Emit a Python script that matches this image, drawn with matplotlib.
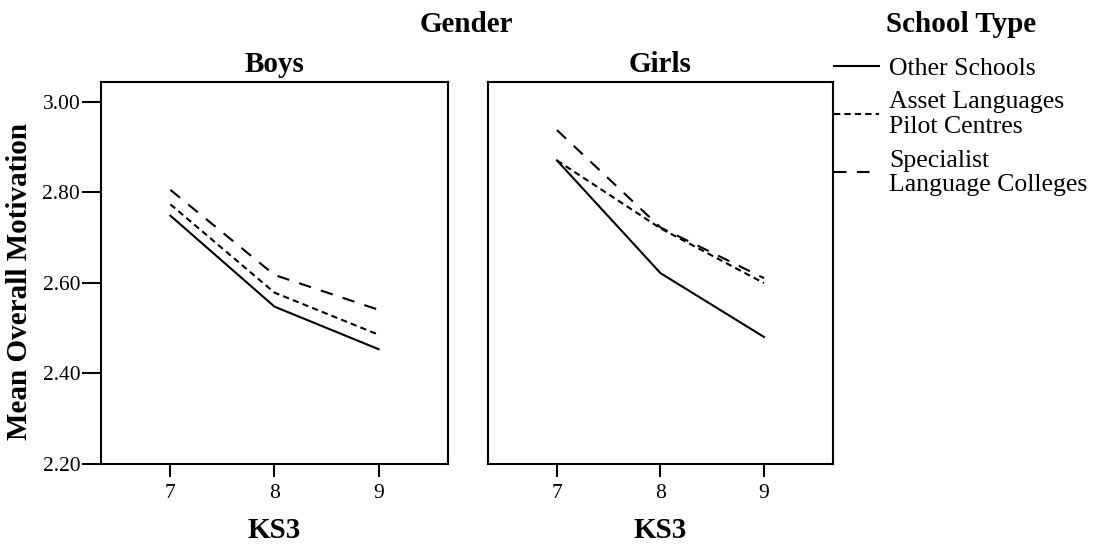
import matplotlib.pyplot as plt
from matplotlib.lines import Line2D

plt.rcParams['font.family'] = ['Liberation Serif', 'DejaVu Serif']

# KS3 year groups
years = [7, 8, 9]

# Mean overall motivation
boys_other = [2.748, 2.547, 2.453]
boys_asset = [2.773, 2.578, 2.485]
boys_specialist = [2.805, 2.617, 2.540]

girls_other = [2.870, 2.621, 2.480]
girls_asset = [2.870, 2.720, 2.599]
girls_specialist = [2.937, 2.722, 2.610]

series_labels = ["Other Schools", "Asset Languages\nPilot Centres",
                 "Specialist\nLanguage Colleges"]
y_ticks = [2.20, 2.40, 2.60, 2.80, 3.00]

styles = ['-', (0, (3, 2)), (0, (6, 5))]
lw = 1.5

fig = plt.figure(figsize=(11.01, 5.45), dpi=100)
ax_b = fig.add_axes([0.0917, 0.1492, 0.3152, 0.7009])
ax_g = fig.add_axes([0.4432, 0.1492, 0.3134, 0.7009])

panels = [
    (ax_b, "Boys", [boys_other, boys_asset, boys_specialist]),
    (ax_g, "Girls", [girls_other, girls_asset, girls_specialist]),
]

for ax, title, series in panels:
    for vals, ls in zip(series, styles):
        ax.plot(years, vals, color='black', linestyle=ls, linewidth=lw)
    ax.set_xlim(6.333, 9.667)
    ax.set_ylim(2.20, 3.044)
    ax.set_xticks(years)
    ax.set_xticklabels([str(y) for y in years], fontsize=15.5)
    ax.tick_params(axis='x', length=9.5, width=1.5, pad=5)
    ax.set_title(title, fontsize=21, fontweight='bold', pad=7)
    ax.set_xlabel("KS3", fontsize=21, fontweight='bold', labelpad=10)
    for sp in ax.spines.values():
        sp.set_linewidth(1.5)

ax_b.set_yticks(y_ticks)
ax_b.set_yticklabels([f"{v:.2f}" for v in y_ticks], fontsize=15.5)
ax_b.tick_params(axis='y', length=14, width=1.5, pad=1)
ax_b.set_ylabel("Mean Overall Motivation", fontsize=21, fontweight='bold')
ax_b.yaxis.set_label_coords(-0.196, 0.476)
ax_g.set_yticks([])

fig.text(0.424, 0.955, "Gender", fontsize=21, fontweight='bold',
         ha='center', va='center')
fig.text(0.873, 0.955, "School Type", fontsize=21, fontweight='bold',
         ha='center', va='center')

handles = [Line2D([], [], color='black', linestyle=ls, linewidth=lw)
           for ls in styles]
leg = fig.legend(handles, series_labels, loc='upper left',
                 bbox_to_anchor=(0.753, 0.905), frameon=False,
                 fontsize=18.5, handlelength=1.75, handletextpad=0.4,
                 labelspacing=0.45, borderpad=0.2, borderaxespad=0)
for t in leg.get_texts():
    t.set_linespacing(1.15)

plt.savefig("out.png", dpi=100)
plt.close(fig)
